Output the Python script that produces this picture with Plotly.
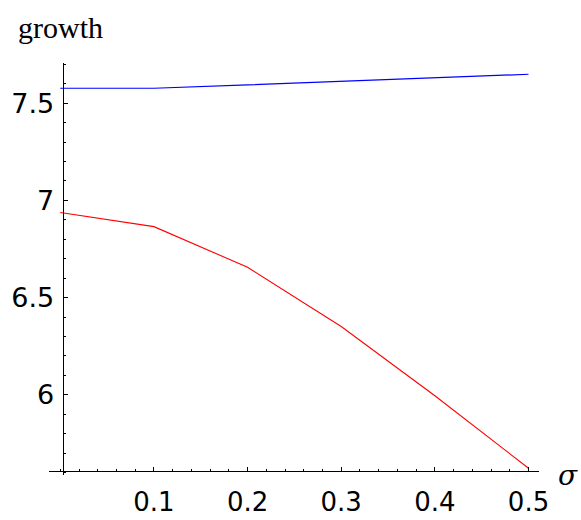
import plotly.graph_objects as go

sigma = [0.0, 0.1, 0.2, 0.3, 0.4, 0.5]
growth_blue = [7.577, 7.577, 7.594, 7.612, 7.630, 7.649]
growth_red = [6.938, 6.865, 6.656, 6.351, 5.995, 5.622]

x_tickvals = [0.1, 0.2, 0.3, 0.4, 0.5]
x_ticktext = ["0.1", "0.2", "0.3", "0.4", "0.5"]
y_tickvals = [6, 6.5, 7, 7.5]
y_ticktext = ["6", "6.5", "7", "7.5"]

fig = go.Figure()
fig.add_trace(go.Scatter(x=sigma, y=growth_blue, mode="lines",
                         line=dict(color="#0000ff", width=1.2)))
fig.add_trace(go.Scatter(x=sigma, y=growth_red, mode="lines",
                         line=dict(color="#ff0000", width=1.1)))

tickfont = dict(family="DejaVu Sans", size=27, color="black")
xtickfont = dict(family="DejaVu Sans", size=26, color="black")

fig.update_layout(
    width=581, height=520,
    margin=dict(l=49, r=41.7, t=63.3, b=44.5),
    plot_bgcolor="white", paper_bgcolor="white",
    showlegend=False,
    xaxis=dict(range=[-0.01206, 0.5112], showgrid=False, zeroline=False,
               showline=True, linecolor="black", linewidth=1, automargin=False,
               anchor="free", position=0.0085,
               tickvals=x_tickvals, ticktext=x_ticktext,
               ticks="inside", ticklen=4, tickcolor="black", tickfont=xtickfont,
               ticklabelstandoff=7,
               minor=dict(dtick=0.02, tick0=0, ticks="inside", ticklen=2, tickcolor="black", showgrid=False)),
    yaxis=dict(range=[5.587, 7.707], showgrid=False, zeroline=False,
               showline=True, linecolor="black", linewidth=1, automargin=False,
               anchor="free", position=0.0279,
               tickvals=y_tickvals, ticktext=y_ticktext,
               ticks="inside", ticklen=4, tickcolor="black", tickfont=tickfont,
               ticklabelstandoff=3,
               minor=dict(dtick=0.1, tick0=6, ticks="inside", ticklen=2, tickcolor="black", showgrid=False)),
    annotations=[
        dict(text="growth", xref="paper", yref="paper", x=-0.0673, y=(475.5 - 28) / 412.2,
             xanchor="left", yanchor="middle", showarrow=False,
             font=dict(family="Liberation Serif", size=30, color="black")),
        dict(text="σ", xref="paper", yref="paper", x=1.0585, y=0.0,
             xanchor="center", yanchor="middle", showarrow=False,
             font=dict(family="DejaVu Serif", size=28, color="black", style="italic")),
    ],
)

fig.write_html("out.html", config={"displayModeBar": False},
               post_script="document.body.style.margin='0';document.body.style.overflow='hidden';")
